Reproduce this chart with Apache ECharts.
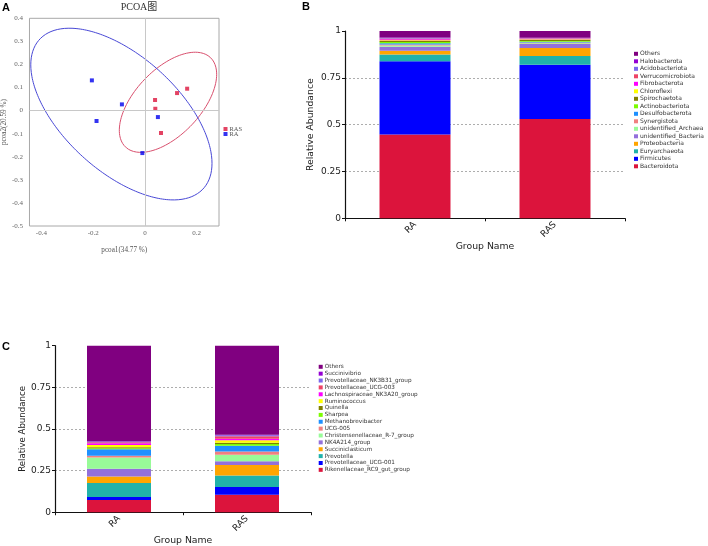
<!DOCTYPE html>
<html>
<head>
<meta charset="utf-8">
<script src="https://cdn.jsdelivr.net/npm/echarts@6/dist/echarts.min.js"></script>
<style>
html,body{margin:0;padding:0;background:#fff;}
#chart{width:708px;height:546px;}
</style>
</head>
<body>
<div id="chart"></div>
<script>
// ---------- Panel A: PCoA ----------
const pcoaTitle = 'PCOA图';
const pcoaXName = 'pcoa1(34.77 %)';
const pcoaYName = 'pcoa2(20.59 %)';
const pcoaXTicks = [-0.4, -0.2, 0, 0.2];
const pointsRAS = [[0.124, 0.076], [0.163, 0.095], [0.039, 0.046], [0.040, 0.008], [0.062, -0.097]];
const pointsRA = [[-0.205, 0.131], [-0.089, 0.027], [-0.187, -0.045], [0.050, -0.028], [-0.010, -0.184]];
// ellipse: centre x, centre y, half x-extent, half y-extent, phase (deg)
const ellipseRAS = [0.089, 0.036, 0.188, 0.217, 56];
const ellipseRA = [-0.091, -0.015, 0.350, 0.372, 125];

// ---------- Shared ----------
const groups = ['RA', 'RAS'];
const palette = ['#DC143C', '#0000FF', '#20B2AA', '#FFA500', '#9370DB', '#98FB98', '#F08080', '#1E90FF',
                 '#7CFC00', '#808000', '#FFFF00', '#FF00FF', '#EE4466', '#7B68EE', '#9400D3', '#800080'];

// ---------- Panel B: phylum (bottom to top) ----------
const phylumNames = ['Bacteroidota', 'Firmicutes', 'Euryarchaeota', 'Proteobacteria', 'unidentified_Bacteria',
  'unidentified_Archaea', 'Synergistota', 'Desulfobacterota', 'Actinobacteriota', 'Spirochaetota', 'Chloroflexi',
  'Fibrobacterota', 'Verrucomicrobiota', 'Acidobacteriota', 'Halobacterota', 'Others'];
const phylumRA = [0.448, 0.390, 0.036, 0.021, 0.021, 0.007, 0.005, 0.007, 0.006, 0.005, 0.005, 0.005, 0.004, 0.002, 0.003, 0.035];
const phylumRAS = [0.530, 0.290, 0.046, 0.043, 0.021, 0.004, 0.005, 0.004, 0.004, 0.006, 0.003, 0.002, 0.003, 0.002, 0.001, 0.036];

// ---------- Panel C: genus (bottom to top) ----------
const genusNames = ['Rikenellaceae_RC9_gut_group', 'Prevotellaceae_UCG-001', 'Prevotella', 'Succiniclasticum',
  'NK4A214_group', 'Christensenellaceae_R-7_group', 'UCG-005', 'Methanobrevibacter', 'Sharpea', 'Quinella',
  'Ruminococcus', 'Lachnospiraceae_NK3A20_group', 'Prevotellaceae_UCG-003', 'Prevotellaceae_NK3B31_group',
  'Succinivibrio', 'Others'];
const genusRA = [0.074, 0.018, 0.083, 0.039, 0.047, 0.068, 0.010, 0.039, 0.006, 0.006, 0.013, 0.011, 0.006, 0.003, 0.003, 0.574];
const genusRAS = [0.105, 0.046, 0.070, 0.062, 0.023, 0.039, 0.019, 0.035, 0.010, 0.008, 0.015, 0.010, 0.014, 0.006, 0.004, 0.534];

function ellipsePoints(e) {
  const [cx, cy, rx, ry, ph] = e;
  const p = ph * Math.PI / 180;
  const out = [];
  for (let k = 0; k <= 240; k++) {
    const t = 2 * Math.PI * k / 240;
    out.push([cx + rx * Math.cos(t), cy + ry * Math.cos(t - p)]);
  }
  return out;
}

const serif = 'Liberation Serif';
const sans = 'DejaVu Sans';

const series = [];
series.push({
  name: 'ellipseRAS', type: 'line', xAxisIndex: 0, yAxisIndex: 0, data: ellipsePoints(ellipseRAS),
  showSymbol: false, silent: true, smooth: false, lineStyle: { color: '#D9506E', width: 1 }, z: 2
});
series.push({
  name: 'ellipseRA', type: 'line', xAxisIndex: 0, yAxisIndex: 0, data: ellipsePoints(ellipseRA),
  showSymbol: false, silent: true, smooth: false, lineStyle: { color: '#4848D6', width: 1 }, z: 2
});
series.push({
  name: 'RAS', type: 'scatter', xAxisIndex: 0, yAxisIndex: 0, data: pointsRAS, symbol: 'rect', symbolSize: 4,
  itemStyle: { color: '#DC143C' }, z: 4,
  markLine: {
    silent: true, symbol: 'none', label: { show: false },
    lineStyle: { color: '#c8c8c8', type: 'solid', width: 1 },
    data: [{ xAxis: 0 }, { yAxis: 0 }]
  }
});
series.push({
  name: 'RA', type: 'scatter', xAxisIndex: 0, yAxisIndex: 0, data: pointsRA, symbol: 'rect', symbolSize: 4,
  itemStyle: { color: '#0000EE' }, z: 4
});
phylumNames.forEach((n, i) => {
  series.push({
    name: n, type: 'bar', xAxisIndex: 1, yAxisIndex: 1, stack: 'B', barWidth: '50.7%',
    data: [phylumRA[i], phylumRAS[i]], itemStyle: { color: palette[i] }
  });
});
genusNames.forEach((n, i) => {
  series.push({
    name: n, type: 'bar', xAxisIndex: 2, yAxisIndex: 2, stack: 'C', barWidth: '50%',
    data: [genusRA[i], genusRAS[i]], itemStyle: { color: palette[i] }
  });
});

function abundY(gi, nameGap, nameSize) {
  return {
    type: 'value', gridIndex: gi, min: 0, max: 1, interval: 0.25,
    name: 'Relative Abundance', nameLocation: 'middle', nameGap: nameGap,
    nameTextStyle: { fontFamily: sans, fontSize: nameSize, color: '#222' },
    axisLine: { show: true, lineStyle: { color: '#111', width: 1.2 } },
    axisTick: { show: true, length: 3, lineStyle: { color: '#111' } },
    axisLabel: { fontFamily: sans, fontSize: 9, color: '#222', margin: 4 },
    splitLine: { show: true, showMaxLine: false, showMinLine: false, lineStyle: { color: '#999', type: [2, 2], width: 0.8 } }
  };
}
function groupX(gi, nameGap) {
  return {
    type: 'category', gridIndex: gi, data: groups,
    name: 'Group Name', nameLocation: 'middle', nameGap: nameGap,
    nameTextStyle: { fontFamily: sans, fontSize: 9.3, color: '#222' },
    axisLine: { show: true, lineStyle: { color: '#111', width: 1.2 } },
    axisTick: { show: true, length: 3, lineStyle: { color: '#111' } },
    axisLabel: { fontFamily: sans, fontSize: 9, color: '#222', rotate: 45, margin: 5 },
    splitLine: { show: false }
  };
}

const option = {
  animation: false,
  backgroundColor: '#ffffff',
  title: [{
    text: pcoaTitle, left: 134, top: -3, textAlign: 'center',
    textStyle: { fontFamily: serif + ', Noto Sans CJK SC', fontSize: 10, fontWeight: 'normal', color: '#333' }
  }],
  graphic: [
    { type: 'text', left: 2, top: 2, style: { text: 'A', font: 'bold 11px Liberation Sans', fill: '#000' } },
    { type: 'text', left: 302, top: 1, style: { text: 'B', font: 'bold 11px Liberation Sans', fill: '#000' } },
    { type: 'text', left: 2, top: 341, style: { text: 'C', font: 'bold 11px Liberation Sans', fill: '#000' } }
  ],
  legend: [
    {
      data: ['RAS', 'RA'], orient: 'vertical', left: 218.5, top: 120.5, itemWidth: 4, itemHeight: 4, itemGap: -2,
      icon: 'rect', textStyle: { fontFamily: serif, fontSize: 6.5, lineHeight: 6, color: '#555', padding: [0, 0, 0, -3] },
      selectedMode: false
    },
    {
      data: phylumNames.slice().reverse(), orient: 'vertical', left: 629, top: 45.8, itemWidth: 4, itemHeight: 4,
      itemGap: 1.5, icon: 'rect', selectedMode: false,
      textStyle: { fontFamily: sans, fontSize: 6, lineHeight: 6, color: '#333', padding: [0, 0, 0, -3] }
    },
    {
      data: genusNames.slice().reverse(), orient: 'vertical', left: 313.7, top: 358.8, itemWidth: 4, itemHeight: 4,
      itemGap: 0.87, icon: 'rect', selectedMode: false,
      textStyle: { fontFamily: sans, fontSize: 5.7, lineHeight: 5.5, color: '#333', padding: [0, 0, 0, -3] }
    }
  ],
  grid: [
    { left: 29, top: 18.3, width: 190, height: 207.7, show: true, borderColor: '#a8a8a8', borderWidth: 1, backgroundColor: 'transparent' },
    { left: 345, top: 31, width: 280, height: 187.3 },
    { left: 55, top: 345.7, width: 256, height: 171.6 }
  ],
  xAxis: [
    {
      type: 'value', gridIndex: 0, min: -0.446, max: 0.286,
      name: pcoaXName, nameLocation: 'middle', nameGap: 21,
      nameTextStyle: { fontFamily: serif, fontSize: 7.2, color: '#555' },
      axisLine: { show: false }, axisTick: { show: false }, splitLine: { show: false },
      axisLabel: { customValues: pcoaXTicks, fontFamily: serif, fontSize: 7, color: '#666', margin: 4 }
    },
    groupX(1, 19),
    groupX(2, 17)
  ],
  yAxis: [
    {
      type: 'value', gridIndex: 0, min: -0.5, max: 0.4, interval: 0.1,
      name: pcoaYName, nameLocation: 'middle', nameGap: 20,
      nameTextStyle: { fontFamily: serif, fontSize: 7.2, color: '#555' },
      axisLine: { show: false }, axisTick: { show: false }, splitLine: { show: false },
      axisLabel: { fontFamily: serif, fontSize: 7, color: '#666', margin: 6.5,
        formatter: v => String(Math.round(v * 10) / 10) }
    },
    abundY(1, 30, 9.3),
    abundY(2, 28, 8.6)
  ],
  series: series
};

const chart = echarts.init(document.getElementById('chart'), null, { renderer: 'canvas' });
chart.setOption(option);
</script>
</body>
</html>
